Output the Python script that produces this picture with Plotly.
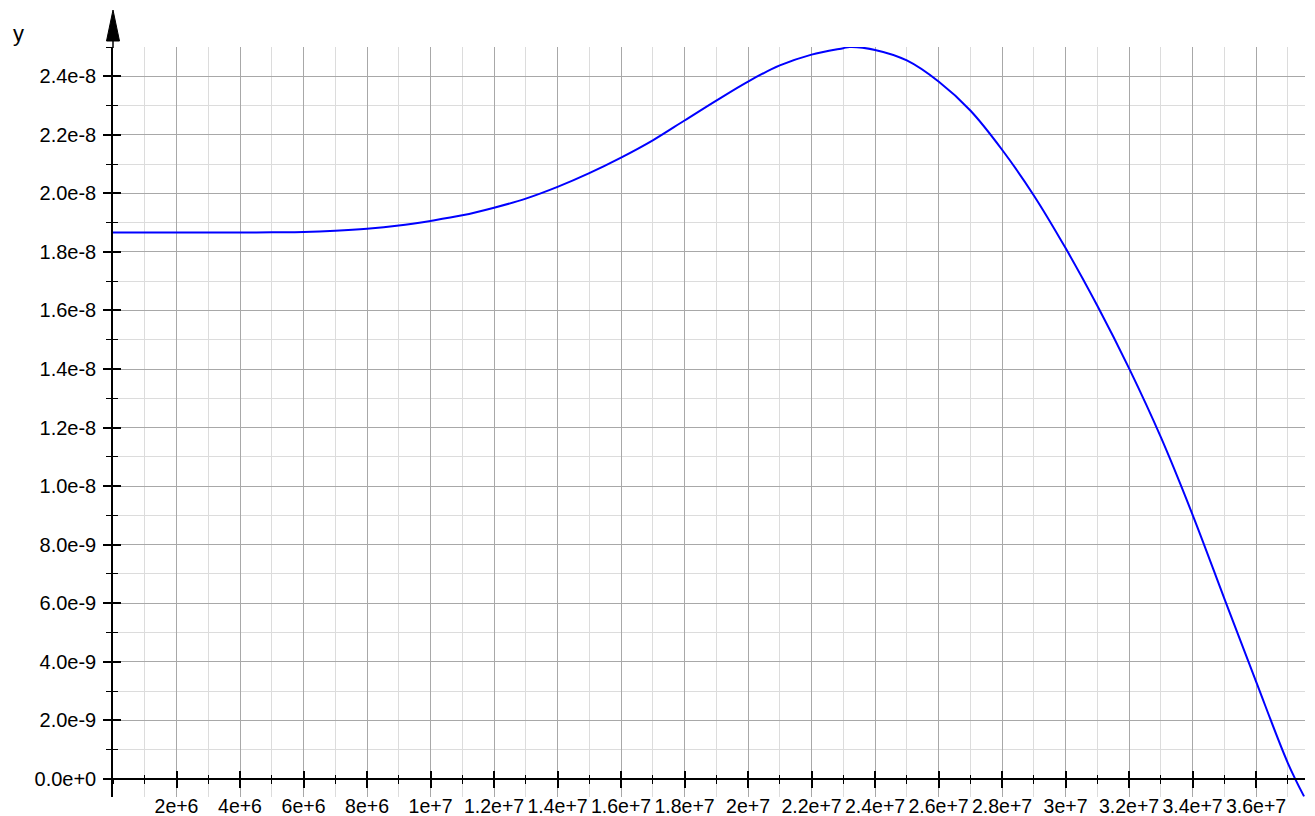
import plotly.graph_objects as go

# Data
x_vals = [0, 1e6, 2e6, 3e6, 4e6, 5e6, 6e6, 7e6, 8e6, 9e6, 1e7, 1.1e7, 1.2e7, 1.3e7,
          1.4e7, 1.5e7, 1.6e7, 1.7e7, 1.8e7, 1.9e7, 2.0e7, 2.1e7, 2.2e7, 2.3e7, 2.32e7,
          2.4e7, 2.5e7, 2.6e7, 2.7e7, 2.8e7, 2.9e7, 3.0e7, 3.1e7, 3.2e7, 3.3e7, 3.4e7,
          3.5e7, 3.6e7, 3.7e7, 3.751e7]
y_vals = [18.66e-9, 18.66e-9, 18.66e-9, 18.66e-9, 18.66e-9, 18.67e-9, 18.68e-9, 18.72e-9,
          18.79e-9, 18.90e-9, 19.06e-9, 19.25e-9, 19.51e-9, 19.82e-9, 20.22e-9, 20.69e-9,
          21.22e-9, 21.81e-9, 22.49e-9, 23.17e-9, 23.82e-9, 24.37e-9, 24.74e-9, 24.96e-9,
          25.0e-9, 24.90e-9, 24.54e-9, 23.82e-9, 22.83e-9, 21.49e-9, 19.93e-9, 18.13e-9,
          16.16e-9, 14.02e-9, 11.67e-9, 9.02e-9, 6.16e-9, 3.32e-9, 0.54e-9, -0.60e-9]

x_tick_vals = [2e6, 4e6, 6e6, 8e6, 1e7, 1.2e7, 1.4e7, 1.6e7, 1.8e7, 2e7, 2.2e7, 2.4e7,
               2.6e7, 2.8e7, 3e7, 3.2e7, 3.4e7, 3.6e7]
x_tick_text = ["2e+6", "4e+6", "6e+6", "8e+6", "1e+7", "1.2e+7", "1.4e+7", "1.6e+7",
               "1.8e+7", "2e+7", "2.2e+7", "2.4e+7", "2.6e+7", "2.8e+7", "3e+7",
               "3.2e+7", "3.4e+7", "3.6e+7"]
y_tick_vals = [0, 2e-9, 4e-9, 6e-9, 8e-9, 1e-8, 1.2e-8, 1.4e-8, 1.6e-8, 1.8e-8, 2e-8,
               2.2e-8, 2.4e-8]
y_tick_text = ["0.0e+0", "2.0e-9", "4.0e-9", "6.0e-9", "8.0e-9", "1.0e-8", "1.2e-8",
               "1.4e-8", "1.6e-8", "1.8e-8", "2.0e-8", "2.2e-8", "2.4e-8"]

X_RANGE = [0, 3.754e7]
Y_RANGE = [-0.62e-9, 2.5e-8]

# the page body adds an 8px offset; compensate so the plot lands where the reference has it
OFF = 8
W, H = 1315 - OFF, 816 - OFF
ML, MR, MT, MB = 113 - OFF, 10, 47 - OFF, 19
PW, PH = W - ML - MR, H - MT - MB

FONT = "Liberation Sans, Arial, sans-serif"
MAJOR_GRID = "#a8a8a8"
MINOR_GRID = "#dcdcdc"

y0_pos = (0 - Y_RANGE[0]) / (Y_RANGE[1] - Y_RANGE[0])

fig = go.Figure()
fig.add_trace(go.Scatter(x=x_vals, y=y_vals, mode="lines",
                         line=dict(color="#0000ff", width=2, shape="spline", smoothing=1.0),
                         showlegend=False, hoverinfo="skip"))
fig.add_trace(go.Scatter(x=[None], y=[None], xaxis="x2", yaxis="y2", showlegend=False))

fig.update_layout(
    width=W, height=H,
    margin=dict(l=ML, r=MR, t=MT, b=MB, autoexpand=False),
    plot_bgcolor="white", paper_bgcolor="white",
    font=dict(family=FONT, color="black"),
    xaxis=dict(
        range=X_RANGE, anchor="free", position=y0_pos, automargin=False,
        showline=True, linecolor="black", linewidth=1.5,
        tickmode="array", tickvals=x_tick_vals, ticktext=x_tick_text, tickangle=0,
        ticks="outside", ticklen=8, tickwidth=1.5, tickcolor="black",
        tickfont=dict(size=19.5, family=FONT), ticklabelstandoff=2,
        showgrid=True, gridcolor=MAJOR_GRID, gridwidth=1,
        zeroline=False,
        minor=dict(tickmode="linear", tick0=0, dtick=1e6, ticks="outside", ticklen=4,
                   tickwidth=1, tickcolor="black", showgrid=True, gridcolor=MINOR_GRID, gridwidth=1),
    ),
    yaxis=dict(
        range=Y_RANGE, anchor="x", side="left", automargin=False,
        showline=True, linecolor="black", linewidth=1.5,
        tickmode="array", tickvals=y_tick_vals, ticktext=y_tick_text,
        ticks="outside", ticklen=8, tickwidth=1.5, tickcolor="black",
        tickfont=dict(size=20, family=FONT), ticklabelstandoff=3,
        showgrid=True, gridcolor=MAJOR_GRID, gridwidth=1,
        zeroline=False,
        minor=dict(tickmode="linear", tick0=0, dtick=1e-9, ticks="outside", ticklen=5,
                   tickwidth=1, tickcolor="black", showgrid=True, gridcolor=MINOR_GRID, gridwidth=1),
    ),
    xaxis2=dict(
        range=X_RANGE, overlaying="x", anchor="free", position=y0_pos, automargin=False,
        showline=False, showticklabels=False, showgrid=False, zeroline=False,
        tickmode="array", tickvals=x_tick_vals,
        ticks="inside", ticklen=8, tickwidth=1.5, tickcolor="black",
        minor=dict(tickmode="linear", tick0=0, dtick=1e6, ticks="inside", ticklen=4,
                   tickwidth=1, tickcolor="black", showgrid=False),
    ),
    yaxis2=dict(
        range=Y_RANGE, overlaying="y", anchor="x2", side="left", automargin=False,
        showline=False, showticklabels=False, showgrid=False, zeroline=False,
        tickmode="array", tickvals=y_tick_vals,
        ticks="inside", ticklen=8, tickwidth=1.5, tickcolor="black",
        minor=dict(tickmode="linear", tick0=0, dtick=1e-9, ticks="inside", ticklen=5,
                   tickwidth=1, tickcolor="black", showgrid=False),
    ),
)

# helpers: page pixel -> paper fraction
def px_x(dx):
    return dx / PW

def px_y(py):  # py = pixel row on the final page
    return (OFF + H - MB - py) / PH

tip_y, base_y, half_w = 10, 41, 6.5
fig.add_shape(type="line", xref="paper", yref="paper",
              x0=0, x1=0, y0=px_y(47 + 1), y1=px_y(base_y),
              line=dict(color="black", width=1.5))
fig.add_shape(type="path", xref="paper", yref="paper",
              path=f"M {-px_x(half_w)},{px_y(base_y)} L 0,{px_y(tip_y)} L {px_x(half_w)},{px_y(base_y)} Z",
              line=dict(color="black", width=1), fillcolor="black")

fig.add_annotation(text="y", xref="paper", yref="paper", x=px_x(11 - 113), y=px_y(33),
                   xanchor="left", yanchor="middle", showarrow=False,
                   font=dict(size=22, family=FONT, color="black"))

fig.write_html("out.html")
